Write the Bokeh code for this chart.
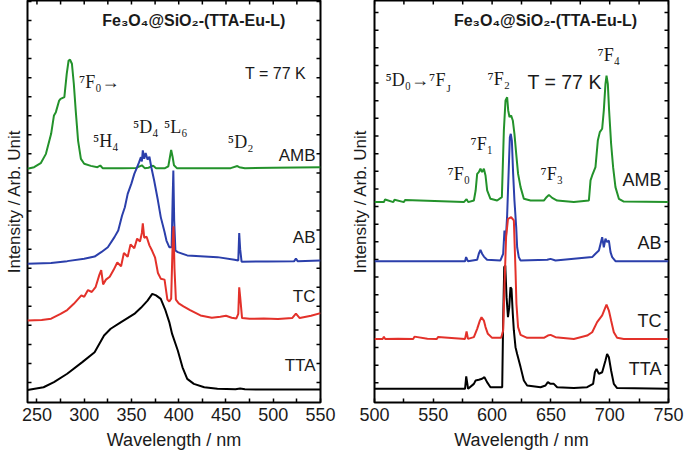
import numpy as np
from bokeh.plotting import figure
from bokeh.models import FixedTicker, Range1d, Label
from bokeh.layouts import row
from bokeh.embed import file_html
from bokeh.resources import INLINE

# ---------------- data: excitation spectra (left panel) ----------------
ex_wl_tta = [240, 257, 268, 282, 298, 311, 321, 328, 339, 353, 360, 367, 372, 376, 381, 386, 390, 393,
             399, 404, 409, 416, 427, 441, 460, 465, 470, 550]
ex_tta = [-0.39, -0.25, 0.02, 0.46, 1.07, 1.59, 2.47, 2.82, 3.17, 3.60, 3.92, 4.30, 4.65, 4.57, 4.39,
          3.78, 3.17, 2.55, 1.68, 0.80, 0.19, -0.07, -0.25, -0.33, -0.36, -0.32, -0.36, -0.37]

ex_wl_tc = [240, 255, 265, 275, 282, 289, 293, 297, 300, 304, 308, 312, 316, 318, 320, 323, 327, 331,
            335, 339, 342, 346, 349, 353, 356, 359, 361, 362, 363.5, 366, 369, 372, 375, 378, 381, 385,
            388, 390, 392, 393.5, 394.5, 395.5, 397, 400, 405, 412, 423, 435, 444, 450, 456, 461, 463,
            464, 465, 467, 475, 490, 505, 520, 524, 528, 540, 550]
ex_tc = [3.25, 3.28, 3.35, 3.60, 3.80, 4.13, 4.35, 4.57, 4.50, 4.85, 4.75, 5.00, 5.65, 5.90, 5.15, 5.40,
         5.55, 5.90, 6.30, 6.10, 6.80, 6.60, 7.25, 7.05, 7.55, 7.40, 7.85, 8.35, 7.60, 7.65, 7.20, 6.90,
         6.55, 5.75, 5.45, 5.40, 4.35, 4.25, 4.40, 7.20, 8.20, 6.00, 4.35, 4.15, 4.00, 3.80, 3.52, 3.40,
         3.45, 3.50, 3.40, 3.36, 3.60, 5.00, 4.50, 3.38, 3.34, 3.36, 3.33, 3.38, 3.62, 3.38, 3.50, 3.64]

ex_wl_ab = [240, 265, 282, 300, 311, 318, 325, 332, 336, 340, 343, 346, 350, 353, 356, 358, 360, 361,
            362, 363.5, 365, 367, 369, 371, 374, 378, 381, 385, 387, 390, 392.5, 393.5, 394.3, 395.2,
            396.5, 399, 409, 441, 459, 463, 464, 465, 466.5, 494, 522, 524, 526, 550]
ex_ab = [6.23, 6.27, 6.37, 6.49, 6.61, 6.84, 7.10, 7.63, 7.98, 8.75, 9.20, 9.90, 10.45, 10.95, 11.30,
         11.55, 11.83, 11.60, 12.18, 11.74, 12.05, 11.70, 11.85, 11.30, 10.60, 9.55, 8.68, 7.90, 7.45,
         7.10, 7.10, 9.50, 11.13, 8.50, 6.93, 6.84, 6.67, 6.58, 6.44, 6.40, 7.84, 7.00, 6.34, 6.35, 6.36,
         6.50, 6.36, 6.40]

ex_wl_amb = [240, 247, 254, 259.5, 265, 268, 270, 273.5, 275, 279, 281.5, 283.5, 285, 287, 289, 291,
             293.5, 296.5, 300, 307, 314, 317, 319.5, 340, 355, 361, 364, 368, 373, 376, 385, 389, 392,
             393.5, 395, 398, 430, 455, 462, 464, 470, 500, 550]
ex_amb = [11.22, 11.30, 11.51, 12.00, 13.05, 14.02, 14.19, 14.80, 14.89, 14.98, 16.20, 16.90, 16.94,
          16.73, 15.68, 14.28, 12.70, 11.74, 11.48, 11.37, 11.30, 11.39, 11.25, 11.25, 11.26, 11.40,
          11.25, 11.27, 11.38, 11.25, 11.24, 11.35, 12.21, 11.85, 11.40, 11.25, 11.25, 11.25, 11.36,
          11.30, 11.25, 11.27, 11.30]

# ---------------- data: emission spectra (right panel) ----------------
em_wl_tta = [500, 577, 578, 579.6, 584.5, 586, 588.7, 591.5, 593.5, 595.7, 598.6, 608.6, 609.4, 610.3,
             611.2, 612.3, 613.5, 614.6, 615.6, 616.5, 617.6, 618.5, 619.9, 621.3, 624.2, 627, 629.8,
             641.2, 645.4, 647.4, 649.7, 652.5, 655.3, 669.5, 680.8, 685.9, 687.4, 688.8, 690.8, 693.6,
             696.4, 697.8, 699.3, 701.2, 703.5, 706.3, 750]
em_tta = [-0.34, -0.34, 0.36, -0.34, -0.06, 0.13, 0.17, 0.23, 0.32, 0.04, -0.25, -0.25, 3.53, 6.56,
          6.65, 4.86, 3.72, 4.29, 5.42, 5.33, 3.91, 2.97, 2.02, 1.64, 0.89, 0.13, -0.15, -0.25, -0.15,
          0.04, -0.06, -0.06, -0.25, -0.30, -0.25, -0.06, 0.60, 0.79, 0.51, 0.60, 1.27, 1.64, 1.45,
          0.70, -0.06, -0.30, -0.34]

em_wl_tc = [500, 507, 508, 509, 520, 533, 534, 545, 553, 554, 577, 578.3, 579.5, 584.5, 587.3, 589.6,
            591, 593, 594.4, 596.4, 600, 607.7, 609.4, 610.5, 611.9, 613.5, 616.2, 618.5, 619.9, 620.7,
            622.1, 624.2, 629.8, 644, 647.4, 649.7, 653.9, 669.5, 680.8, 685.1, 689.3, 693.6, 696.4,
            697.3, 699.3, 701.2, 703.5, 706.3, 712, 750]
em_tc = [2.49, 2.49, 2.62, 2.49, 2.50, 2.49, 2.62, 2.50, 2.49, 2.60, 2.49, 2.91, 2.49, 2.59, 3.06, 3.53,
         3.72, 3.53, 3.16, 2.78, 2.55, 2.55, 2.97, 5.42, 8.26, 9.30, 9.39, 9.21, 6.37, 4.48, 3.16, 2.72,
         2.55, 2.55, 2.68, 2.72, 2.59, 2.49, 2.68, 2.87, 3.44, 3.82, 4.29, 4.44, 4.10, 3.53, 2.87, 2.55,
         2.49, 2.49]

em_wl_ab = [500, 577, 577.9, 579.4, 587.3, 588.7, 590.1, 591.5, 593, 595.7, 607.1, 609.4, 610.5, 611.6,
            612.8, 614.2, 615.1, 615.9, 616.8, 617.9, 619.0, 620.5, 621.3, 622.7, 624.2, 646.9, 649.7,
            653.9, 685.1, 687.9, 690.8, 692.2, 693.6, 695, 696.4, 697.8, 699.3, 700.7, 702.1, 704.9, 750]
em_ab = [6.90, 6.90, 7.13, 6.90, 6.98, 7.32, 7.54, 7.32, 7.16, 6.98, 6.94, 7.32, 8.64, 8.07, 9.50,
         12.23, 13.93, 14.12, 13.74, 11.85, 10.34, 8.83, 7.69, 7.13, 6.94, 6.98, 7.03, 6.94, 7.13, 7.32,
         7.50, 7.88, 8.26, 7.69, 8.17, 7.98, 8.07, 7.41, 7.13, 6.90, 6.90]

em_wl_amb = [500, 508, 509, 516, 517, 525, 526, 576, 578.3, 579.7, 584.5, 586, 587.3, 588.7, 590.1,
             591.5, 593, 594.4, 595.8, 598.6, 604.3, 608.3, 610, 611.4, 612.8, 613.7, 614.8, 616.2,
             617.6, 619, 620.5, 622.1, 624.2, 627, 632.7, 644, 646.3, 648.3, 651.1, 655.3, 669.5,
             682.3, 683.7, 685.1, 687.9, 689.9, 691.6, 693.6, 695, 696.4, 697.3, 698.4, 699.5, 701.2,
             702.9, 704.9, 707.8, 712, 750]
em_amb = [10.25, 10.25, 10.40, 10.25, 10.38, 10.25, 10.37, 10.25, 10.42, 10.25, 10.34, 10.91, 11.85,
          11.95, 12.14, 11.95, 12.14, 11.76, 10.91, 10.44, 10.34, 10.53, 14.31, 16.01, 16.20, 15.45,
          15.07, 15.16, 14.88, 14.12, 12.99, 11.85, 11.10, 10.44, 10.34, 10.34, 10.53, 10.66, 10.49,
          10.34, 10.25, 10.34, 11.48, 11.76, 12.23, 13.74, 14.22, 14.41, 15.45, 16.96, 17.43, 16.96,
          15.45, 13.56, 12.23, 11.10, 10.44, 10.28, 10.25]

series_names = ["AMB", "AB", "TC", "TTA"]

left_x_major = [250, 300, 350, 400, 450, 500, 550]
left_x_minor = [275, 325, 375, 425, 475, 525]
right_x_major = [500, 550, 600, 650, 700, 750]
right_x_minor = [525, 575, 625, 675, 725]
left_y_ticks = list(range(0, 21))
right_y_ticks = list(range(0, 22))

SANS = "Liberation Sans"
SERIF = "Liberation Serif"
C_AMB = "#23922b"
C_AB = "#2b3fab"
C_TC = "#e3312a"
C_TTA = "#000000"
TXT = "#1a1a1a"
FIG_H = 454


def make_fig(width, mbl, mbr, xr, yr, xmaj, xmin, yticks, ylabel_standoff):
    p = figure(width=width, height=FIG_H, x_range=Range1d(*xr), y_range=Range1d(*yr),
               output_backend="svg", toolbar_location=None,
               min_border_left=mbl, min_border_right=mbr, min_border_top=0,
               min_border_bottom=FIG_H - 402)
    p.outline_line_color = "black"
    p.outline_line_width = 2
    p.grid.visible = False

    xa = p.xaxis[0]
    xa.ticker = FixedTicker(ticks=xmaj, minor_ticks=xmin)
    xa.axis_line_color = None
    xa.major_tick_in = 4
    xa.major_tick_out = 0
    xa.minor_tick_in = 4
    xa.minor_tick_out = 0
    xa.major_tick_line_width = 1.5
    xa.minor_tick_line_width = 1.5
    xa.major_label_text_font = SANS
    xa.major_label_text_font_size = "18px"
    xa.major_label_text_color = TXT
    xa.major_label_standoff = 5
    xa.axis_label = "Wavelength / nm"
    xa.axis_label_text_font = SANS
    xa.axis_label_text_font_style = "normal"
    xa.axis_label_text_font_size = "18px"
    xa.axis_label_text_color = TXT
    xa.axis_label_standoff = 6

    ya = p.yaxis[0]
    ya.ticker = FixedTicker(ticks=[], minor_ticks=[])
    ya.axis_line_color = None
    ya.major_tick_out = 0
    ya.minor_tick_out = 0
    ya.major_label_standoff = 0
    ya.axis_label = "Intensity / Arb. Unit"
    ya.axis_label_text_font = SANS
    ya.axis_label_text_font_style = "normal"
    ya.axis_label_text_font_size = "17px"
    ya.axis_label_text_color = TXT
    ya.axis_label_standoff = ylabel_standoff

    # inward tick marks on the left, right and top frame edges
    n = len(yticks)
    p.scatter([xr[0]] * n, yticks, marker="dash", size=8, line_color="black", line_width=1.5)
    p.scatter([xr[1]] * n, yticks, marker="dash", size=8, line_color="black", line_width=1.5)
    xall = sorted(xmaj + xmin)
    p.scatter(xall, [yr[1]] * len(xall), marker="dash", angle=np.pi / 2, size=8,
              line_color="black", line_width=1.5)
    return p


def add_text(p, x, y, text, size, font=SANS, align="left", style="normal"):
    p.add_layout(Label(x=x, y=y, text=text, text_font=font, text_font_size=size,
                       text_align=align, text_baseline="middle", text_font_style=style,
                       text_color=TXT))


# ---------------- left panel ----------------
p1 = make_fig(340, 27, 20, (240, 550), (-1.05, 20.05), left_x_major, left_x_minor, left_y_ticks, 4)
p1.line(ex_wl_tta, ex_tta, line_color=C_TTA, line_width=2)
p1.line(ex_wl_amb, ex_amb, line_color=C_AMB, line_width=2)
p1.line(ex_wl_ab, ex_ab, line_color=C_AB, line_width=2)
p1.line(ex_wl_tc, ex_tc, line_color=C_TC, line_width=2)

add_text(p1, 416, 18.99, "Fe₃O₄@SiO₂-(TTA-Eu-L)", "16px", align="center", style="bold")
add_text(p1, 534.6, 16.24, "T = 77 K", "16px", align="right")
for name, yy in zip(series_names, [11.92, 7.61, 4.51, 0.89]):
    add_text(p1, 544.7, yy, name, "17px", align="right")
add_text(p1, 294.4, 15.75, "⁷F₀→", "18px", font=SERIF)
add_text(p1, 309.2, 12.70, "⁵H₄", "18px", font=SERIF)
add_text(p1, 351.6, 13.39, "⁵D₄", "18px", font=SERIF)
add_text(p1, 384.4, 13.39, "⁵L₆", "18px", font=SERIF)
add_text(p1, 452.0, 12.60, "⁵D₂", "18px", font=SERIF)

# ---------------- right panel ----------------
p2 = make_fig(344, 34, 16, (500, 750), (-1.117, 21.686), right_x_major, right_x_minor, right_y_ticks, 5)
p2.line(em_wl_tta, em_tta, line_color=C_TTA, line_width=2)
p2.line(em_wl_amb, em_amb, line_color=C_AMB, line_width=2)
p2.line(em_wl_ab, em_ab, line_color=C_AB, line_width=2)
p2.line(em_wl_tc, em_tc, line_color=C_TC, line_width=2)

add_text(p2, 645.4, 20.55, "Fe₃O₄@SiO₂-(TTA-Eu-L)", "16px", align="center", style="bold")
add_text(p2, 630.1, 17.09, "T = 77 K", "19.5px", align="left")
for name, yy in zip(series_names, [11.48, 7.92, 3.53, 0.79]):
    add_text(p2, 744.0, yy, name, "18px", align="right")
add_text(p2, 509.4, 17.15, "⁵D₀→⁷F", "18px", font=SERIF)
add_text(p2, 561.2, 16.75, "J", "11px", font=SERIF)
add_text(p2, 596.1, 17.26, "⁷F₂", "18px", font=SERIF)
add_text(p2, 689.6, 18.57, "⁷F₄", "18px", font=SERIF)
add_text(p2, 581.6, 13.57, "⁷F₁", "18px", font=SERIF)
add_text(p2, 562.1, 11.87, "⁷F₀", "18px", font=SERIF)
add_text(p2, 641.2, 11.87, "⁷F₃", "18px", font=SERIF)

layout = row(p1, p2)
open("out.html", "w").write(file_html(layout, INLINE))
